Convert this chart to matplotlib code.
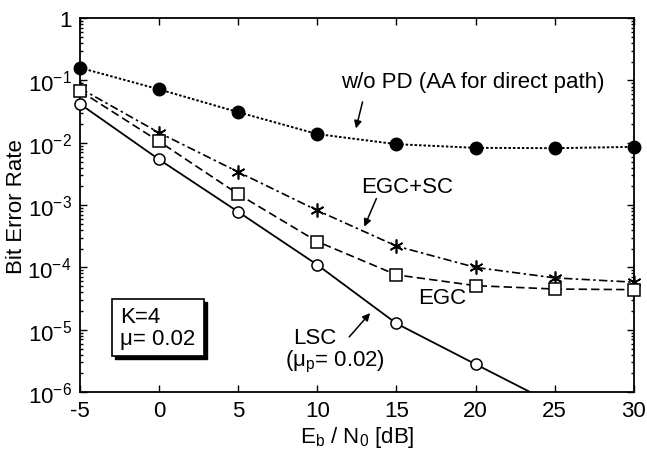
import math
import matplotlib
matplotlib.use("Agg")
import matplotlib.pyplot as plt
from matplotlib.patches import Rectangle
from matplotlib.ticker import FixedLocator, FuncFormatter, LogLocator, NullFormatter

plt.rcParams['font.family'] = ['Liberation Sans', 'DejaVu Sans']
plt.rcParams['mathtext.fontset'] = 'custom'
plt.rcParams['mathtext.rm'] = 'Liberation Sans'
plt.rcParams['mathtext.it'] = 'Liberation Sans'
plt.rcParams['axes.unicode_minus'] = False
plt.rcParams['font.size'] = 16

ebn0 = [-5, 0, 5, 10, 15, 20, 25, 30]
ber_wopd = [0.16, 0.072, 0.031, 0.0138, 0.0095, 0.0083, 0.0082, 0.0086]
ber_egc_sc = [0.075, 0.0145, 0.0034, 8.2e-4, 2.2e-4, 1.0e-4, 6.8e-5, 5.8e-5]
ber_egc = [0.068, 0.0105, 1.5e-3, 2.6e-4, 7.6e-5, 5.1e-5, 4.5e-5, 4.4e-5]
ber_lsc = [0.042, 5.4e-3, 7.8e-4, 1.1e-4, 1.26e-5, 2.8e-6, 6.3e-7]
ebn0_lsc = ebn0[:len(ber_lsc)]

fig = plt.figure(figsize=(6.47, 4.56), dpi=100)
ax = fig.add_axes([0.1236, 0.138, 0.856, 0.82])

ax.plot(ebn0, ber_wopd, color='black', lw=1.4, ls=(0, (1.3, 1.0)),
        marker='o', ms=9, mfc='black', mec='black', clip_on=False, zorder=3)
ax.plot(ebn0, ber_egc_sc, color='black', lw=1.2, ls=(0, (5, 2, 1.5, 2)),
        marker=(6, 2, 0), ms=10, mew=1.2, mec='black', clip_on=False, zorder=3)
ax.plot(ebn0, ber_egc, color='black', lw=1.2, ls=(0, (5, 2.5)),
        marker='s', ms=8, mfc='white', mec='black', mew=1.1, clip_on=False, zorder=4)
# last LSC point lies below the axis, only the line segment reaches it
ax.plot(ebn0_lsc[:-1], ber_lsc[:-1], color='black', lw=1.3, ls='-',
        marker='o', ms=8, mfc='white', mec='black', mew=1.1, clip_on=False, zorder=4)
ax.plot(ebn0_lsc[-2:], ber_lsc[-2:], color='black', lw=1.3, ls='-')

ax.set_yscale('log')
ax.set_xlim(-5, 30)
ax.set_ylim(1e-6, 1)
ax.xaxis.set_major_locator(FixedLocator(ebn0))
ax.yaxis.set_major_locator(FixedLocator([1e-6, 1e-5, 1e-4, 1e-3, 1e-2, 1e-1, 1]))


def fmt_decade(v, pos):
    e = int(round(math.log10(v)))
    return '1' if e == 0 else r'$10^{\mathrm{%d}}$' % e


ax.yaxis.set_major_formatter(FuncFormatter(fmt_decade))
ax.yaxis.set_minor_locator(LogLocator(base=10, subs=(2, 3, 4, 5, 6, 7, 8, 9)))
ax.yaxis.set_minor_formatter(NullFormatter())
ax.tick_params(which='both', direction='in', top=True, right=True, width=1.0)
ax.tick_params(which='major', length=5, labelsize=16, pad=6)
ax.tick_params(which='minor', length=2.5)
for s in ax.spines.values():
    s.set_linewidth(1.3)

ax.set_ylabel('Bit Error Rate', fontsize=16, labelpad=0)
ax.set_xlabel(r'E$_{\mathrm{b}}$ / N$_{\mathrm{0}}$ [dB]', fontsize=16, labelpad=2)

arrow = dict(arrowstyle='-|>', color='black', lw=1.1, mutation_scale=11)

# curve labels with arrows
ax.text(19.8, 0.098, 'w/o PD (AA for direct path)', ha='center', va='center', fontsize=16)
ax.annotate('', xy=(12.4, 0.0154), xytext=(12.9, 0.050), arrowprops=arrow)
ax.text(15.7, 0.0020, 'EGC+SC', ha='center', va='center', fontsize=16)
ax.annotate('', xy=(12.9, 4.1e-4), xytext=(13.8, 1.4e-3), arrowprops=arrow)
ax.text(17.9, 3.3e-5, 'EGC', ha='center', va='center', fontsize=16)
ax.text(9.85, 7.6e-6, 'LSC', ha='center', va='center', fontsize=16)
ax.text(11.1, 3.2e-6, r'($\mu_{\mathrm{p}}$= 0.02)', ha='center', va='center', fontsize=16)
ax.annotate('', xy=(13.45, 2.0e-5), xytext=(11.9, 7.1e-6), arrowprops=arrow)

# parameter box with drop shadow
ax.add_patch(Rectangle((0.064, 0.088), 0.166, 0.153, transform=ax.transAxes,
                       facecolor='black', edgecolor='black', zorder=5))
ax.add_patch(Rectangle((0.058, 0.096), 0.166, 0.153, transform=ax.transAxes,
                       facecolor='white', edgecolor='black', lw=1.2, zorder=6))
ax.text(0.072, 0.172, 'K=4\n\u03bc= 0.02', transform=ax.transAxes, ha='left', va='center',
        fontsize=16, linespacing=1.05, zorder=7)

fig.savefig('out.png', dpi=100)
